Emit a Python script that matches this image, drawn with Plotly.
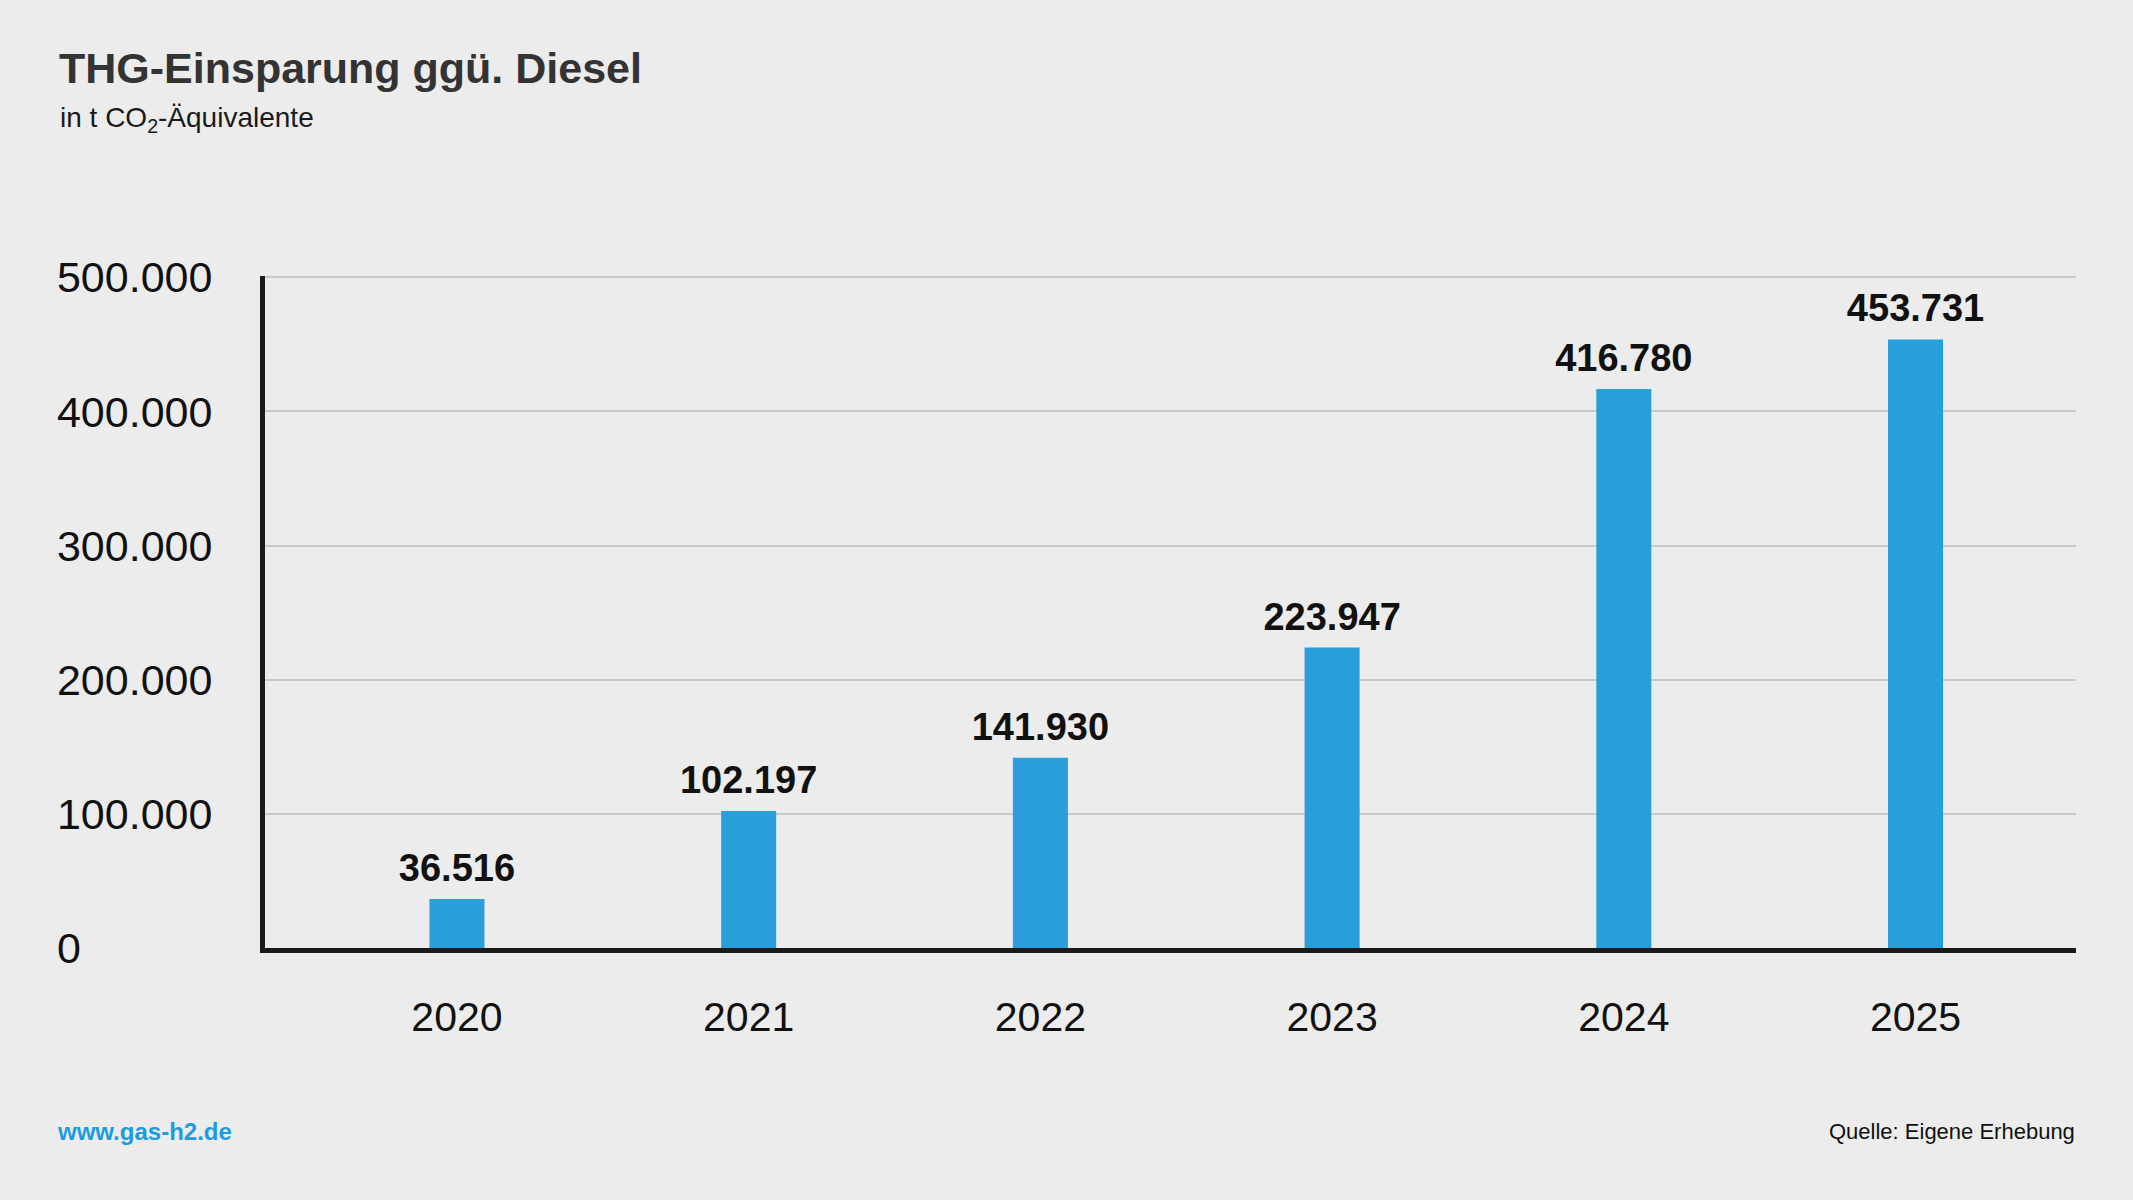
import plotly.graph_objects as go

years = [2020, 2021, 2022, 2023, 2024, 2025]
values = [36516, 102197, 141930, 223947, 416780, 453731]
value_labels = ["36.516", "102.197", "141.930", "223.947", "416.780", "453.731"]
y_ticks = [0, 100000, 200000, 300000, 400000, 500000]
y_tick_labels = ["0\u2007\u2007\u2007\u2008\u2007\u2007", "100.000", "200.000", "300.000", "400.000", "500.000"]

W, H = 2133, 1200
L, R, T, B = 265, 57, 276, 252
PW, PH = W - L - R, H - T - B

def px(x):
    return (x - L) / PW

def py(y):
    return (H - B - y) / PH

BG = "#ececec"
BAR = "#289fda"

fig = go.Figure()
fig.add_trace(go.Bar(
    x=years, y=values, width=0.1886,
    marker=dict(color=BAR, line=dict(width=0)),
    hoverinfo="skip", showlegend=False,
))
fig.add_trace(go.Scatter(
    x=years, y=values, mode="markers+text",
    text=value_labels, textposition="top center",
    marker=dict(size=12, color="rgba(0,0,0,0)"),
    textfont=dict(family="Liberation Sans", size=38, color="#111111", weight="bold"),
    hoverinfo="skip", showlegend=False, cliponaxis=False,
))

fig.update_layout(
    width=W, height=H,
    paper_bgcolor=BG, plot_bgcolor=BG,
    margin=dict(l=L, r=R, t=T, b=B, autoexpand=False),
    font=dict(family="Liberation Sans", color="#111111"),
    xaxis=dict(
        range=[2019.342, 2025.550],
        tickvals=years, ticktext=[str(y) for y in years],
        showgrid=False, zeroline=False,
        showline=True, linecolor="#1a1a1a", linewidth=5,
        ticks="outside", ticklen=29, tickcolor="rgba(0,0,0,0)",
        tickfont=dict(size=41, color="#111111"),
    ),
    yaxis=dict(
        range=[0, 501000],
        tickvals=y_ticks, ticktext=y_tick_labels,
        showgrid=True, gridcolor="#c9c9c9", gridwidth=2,
        zeroline=False,
        showline=True, linecolor="#1a1a1a", linewidth=5,
        ticks="outside", ticklen=39, tickcolor="rgba(0,0,0,0)",
        tickfont=dict(size=43, color="#111111"),
    ),
    annotations=[
        dict(text="<b>THG-Einsparung ggü. Diesel</b>", x=px(57), y=py(68),
             xref="paper", yref="paper", xanchor="left", yanchor="middle",
             showarrow=False, font=dict(size=43, color="#333333", family="Liberation Sans")),
        dict(text="in t CO<sub>2</sub>-Äquivalente", x=px(58), y=py(120),
             xref="paper", yref="paper", xanchor="left", yanchor="middle",
             showarrow=False, font=dict(size=28, color="#1a1a1a", family="Liberation Sans")),
        dict(text="<b>www.gas-h2.de</b>", x=px(55), y=py(1131),
             xref="paper", yref="paper", xanchor="left", yanchor="middle",
             showarrow=False, font=dict(size=24, color="#1b9be0", family="Liberation Sans")),
        dict(text="Quelle: Eigene Erhebung", x=px(2077), y=py(1131),
             xref="paper", yref="paper", xanchor="right", yanchor="middle",
             showarrow=False, font=dict(size=22, color="#111111", family="Liberation Sans")),
    ],
)

fig.write_html(
    "out.html",
    config={"displayModeBar": False},
    post_script="document.body.style.margin='0';document.body.style.background='#ececec';",
)
